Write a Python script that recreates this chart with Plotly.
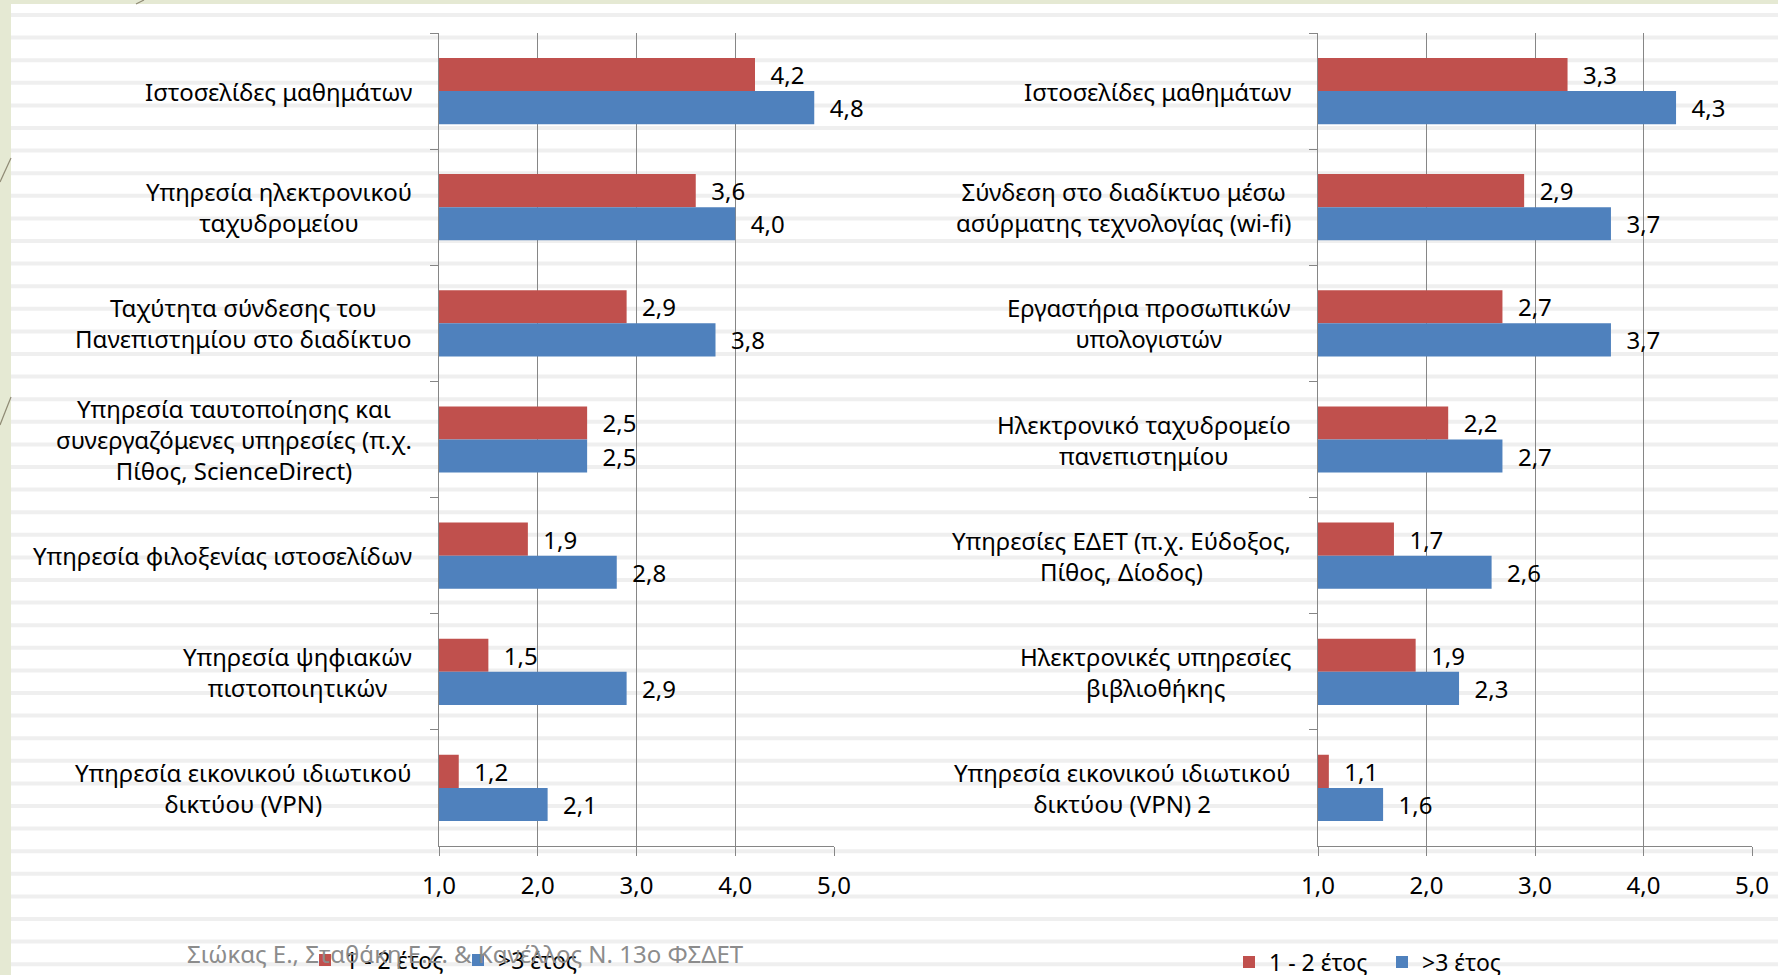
import plotly.graph_objects as go

# ---------------- data ----------------
left_categories = [
    "Ιστοσελίδες μαθημάτων",
    "Υπηρεσία ηλεκτρονικού\nταχυδρομείου",
    "Ταχύτητα σύνδεσης του\nΠανεπιστημίου στο διαδίκτυο",
    "Υπηρεσία ταυτοποίησης και\nσυνεργαζόμενες υπηρεσίες (π.χ.\nΠίθος, ScienceDirect)",
    "Υπηρεσία φιλοξενίας ιστοσελίδων",
    "Υπηρεσία ψηφιακών\nπιστοποιητικών",
    "Υπηρεσία εικονικού ιδιωτικού\nδικτύου (VPN)",
]
left_year12 = [4.2, 3.6, 2.9, 2.5, 1.9, 1.5, 1.2]
left_year3 = [4.8, 4.0, 3.8, 2.5, 2.8, 2.9, 2.1]

right_categories = [
    "Ιστοσελίδες μαθημάτων",
    "Σύνδεση στο διαδίκτυο μέσω\nασύρματης τεχνολογίας (wi-fi)",
    "Εργαστήρια προσωπικών\nυπολογιστών",
    "Ηλεκτρονικό ταχυδρομείο\nπανεπιστημίου",
    "Υπηρεσίες ΕΔΕΤ (π.χ. Εύδοξος,\nΠίθος, Δίοδος)",
    "Ηλεκτρονικές υπηρεσίες\nβιβλιοθήκης",
    "Υπηρεσία εικονικού ιδιωτικού\nδικτύου (VPN) 2",
]
right_year12 = [3.3, 2.9, 2.7, 2.2, 1.7, 1.9, 1.1]
right_year3 = [4.3, 3.7, 3.7, 2.7, 2.6, 2.3, 1.6]

series_names = ["1 - 2 έτος", ">3 έτος"]
tick_values = [1, 2, 3, 4, 5]
citation = "Σιώκας Ε., Σταθάκη Ε.Ζ. & Κανέλλος Ν. 13ο ΦΣΔΕΤ"

# ---------------- style ----------------
W, H = 1778, 975
RED = "#C0504D"
BLUE = "#4F81BD"
AXIS = "#868686"
FONT = "Noto Sans"


def px_x(x):
    return x / W


def px_y(y):
    return 1 - y / H


fig = go.Figure()

panels = [
    (left_categories, left_year12, left_year3, "x", "y", "legend"),
    (right_categories, right_year12, right_year3, "x2", "y2", "legend2"),
]

for cats, v12, v3, xa, ya, lg in panels:
    for name, vals, col in [(series_names[0], v12, RED), (series_names[1], v3, BLUE)]:
        fig.add_trace(go.Bar(
            y=cats, x=vals, orientation="h", name=name,
            marker=dict(color=col, line=dict(width=0)),
            texttemplate="\u00a0\u00a0%{x:.1f}", textposition="outside",
            textfont=dict(family=FONT, size=24, color="#000000"),
            constraintext="none", cliponaxis=False,
            xaxis=xa, yaxis=ya, legend=lg, hoverinfo="skip",
        ))

common_x = dict(
    range=[1, 5], tickvals=tick_values, tickformat=".1f",
    showgrid=True, gridcolor=AXIS, gridwidth=1,
    showline=True, linecolor=AXIS, linewidth=1,
    ticks="outside", ticklen=9, tickcolor=AXIS,
    zeroline=False, ticklabelstandoff=9, automargin=False,
    tickfont=dict(family=FONT, size=24, color="#000000"),
    fixedrange=True,
)
common_y = dict(
    autorange="reversed", showticklabels=False,
    ticks="outside", tickson="boundaries", ticklen=8, tickcolor=AXIS,
    showline=True, linecolor=AXIS, linewidth=1,
    showgrid=False, zeroline=False, fixedrange=True, automargin=False,
    domain=[px_y(846), px_y(33)],
)

fig.update_layout(
    width=W, height=H,
    margin=dict(l=0, r=0, t=0, b=0, pad=0, autoexpand=False),
    paper_bgcolor="#FFFFFF", plot_bgcolor="rgba(0,0,0,0)",
    separators=",.",
    barmode="group", bargap=0.43, bargroupgap=0,
    showlegend=True,
    xaxis=dict(domain=[px_x(439), px_x(834)], anchor="y", **common_x),
    yaxis=dict(anchor="x", **common_y),
    xaxis2=dict(domain=[px_x(1318), px_x(1752)], anchor="y2", **common_x),
    yaxis2=dict(anchor="x2", **common_y),
    legend=dict(orientation="h", x=px_x(305), y=px_y(960), xanchor="left", yanchor="middle",
                font=dict(family=FONT, size=23, color="#000000"),
                bgcolor="rgba(0,0,0,0)", itemwidth=30, entrywidth=108, traceorder="normal"),
    legend2=dict(orientation="h", x=px_x(1229), y=px_y(962), xanchor="left", yanchor="middle",
                 font=dict(family=FONT, size=23, color="#000000"),
                 bgcolor="rgba(0,0,0,0)", itemwidth=30, entrywidth=108, traceorder="normal"),
)

# ---------------- background decoration ----------------
shapes = []
y = 15.0
while y < H:
    shapes.append(dict(type="line", xref="paper", yref="paper",
                       x0=px_x(11), x1=1, y0=px_y(y), y1=px_y(y),
                       line=dict(color="#EFEFEF", width=4), layer="below"))
    y += 22.6
shapes.append(dict(type="rect", xref="paper", yref="paper", x0=0, x1=px_x(11), y0=0, y1=1,
                   fillcolor="#E5E9D3", line=dict(width=0), layer="below"))
shapes.append(dict(type="rect", xref="paper", yref="paper", x0=0, x1=1, y0=px_y(4), y1=1,
                   fillcolor="#E5E9D3", line=dict(width=0), layer="below"))
for (xa0, ya0, xa1, ya1) in [(0, 425, 11, 397), (0, 182, 11, 158), (136, 4, 144, 0)]:
    shapes.append(dict(type="line", xref="paper", yref="paper",
                       x0=px_x(xa0), y0=px_y(ya0), x1=px_x(xa1), y1=px_y(ya1),
                       line=dict(color="#8F8A74", width=1.2), layer="below"))
fig.update_layout(shapes=shapes)

# ---------------- category labels (centred multi-line) ----------------
annotations = []
for cats, yref, right_px in [(left_categories, "y", 414), (right_categories, "y2", 1293)]:
    for c in cats:
        block = "<br>".join(c.split("\n"))
        annotations.append(dict(
            text=block, x=px_x(right_px), xref="paper", y=c, yref=yref,
            xanchor="right", yanchor="middle",
            showarrow=False, align="center",
            font=dict(family=FONT, size=24, color="#000000"),
        ))

annotations.append(dict(
    text=citation, x=px_x(185), y=px_y(953), xref="paper", yref="paper",
    xanchor="left", yanchor="middle", showarrow=False,
    font=dict(family=FONT, size=24, color="#8C8C8C"),
))
fig.update_layout(annotations=annotations)

fig.write_html(
    "out.html",
    config={"displayModeBar": False},
    post_script="document.body.style.margin='0';document.body.style.overflow='hidden';",
)
